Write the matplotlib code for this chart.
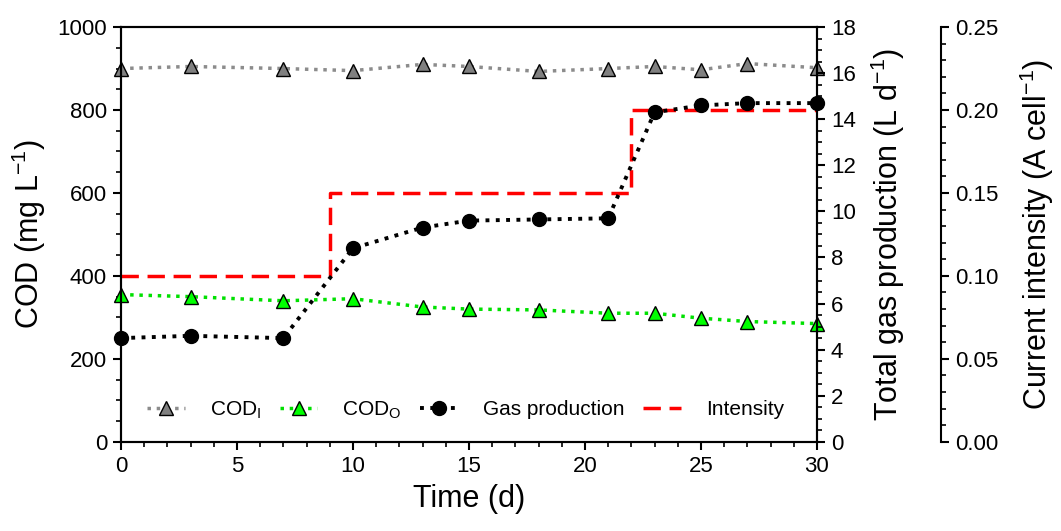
import matplotlib
matplotlib.use('Agg')
import matplotlib.pyplot as plt
from matplotlib.ticker import MultipleLocator

plt.rcParams['font.family'] = ['Liberation Sans', 'DejaVu Sans']
plt.rcParams['mathtext.default'] = 'regular'

days = [0, 3, 7, 10, 13, 15, 18, 21, 23, 25, 27, 30]
cod_in = [900, 905, 900, 895, 910, 905, 893, 900, 905, 897, 912, 902]
cod_out = [355, 350, 340, 345, 325, 320, 318, 310, 310, 298, 290, 285]
gas = [4.5, 4.6, 4.5, 8.4, 9.3, 9.6, 9.65, 9.7, 14.3, 14.6, 14.7, 14.7]

step_days = [0, 9, 9, 22, 22, 30]
intensity = [0.10, 0.10, 0.15, 0.15, 0.20, 0.20]

fig = plt.figure(figsize=(10.61, 5.31), dpi=100)
ax = fig.add_axes([0.114, 0.168, 0.656, 0.781])
ax3 = ax.twinx()
ax2 = ax.twinx()

l1, = ax.plot(days, cod_in, ls=':', lw=2.5, color='#8c8c8c', marker='^', ms=10,
              mfc='#808080', mec='black', mew=1, clip_on=False, label='COD$_{I}$')
l2, = ax.plot(days, cod_out, ls=':', lw=2.5, color='#00e000', marker='^', ms=10,
              mfc='#00ff00', mec='black', mew=1, clip_on=False, label='COD$_{O}$')
l3, = ax2.plot(days, gas, ls=':', lw=2.8, color='black', marker='o', ms=10,
               mfc='black', mec='black', clip_on=False, label='Gas production')
l4, = ax3.plot(step_days, intensity, ls=(0, (5, 2.5)), lw=2.5, color='#ff0000',
               label='Intensity')

ax.set_xlim(0, 30)
ax.set_ylim(0, 1000)
ax2.set_ylim(0, 18)
ax3.set_ylim(0, 0.25)

ax.xaxis.set_major_locator(MultipleLocator(5))
ax.xaxis.set_minor_locator(MultipleLocator(1))
ax.yaxis.set_major_locator(MultipleLocator(200))
ax.yaxis.set_minor_locator(MultipleLocator(50))
ax2.yaxis.set_major_locator(MultipleLocator(2))
ax2.yaxis.set_minor_locator(MultipleLocator(0.5))
ax3.yaxis.set_major_locator(MultipleLocator(0.05))
ax3.yaxis.set_minor_locator(MultipleLocator(0.01))
ax3.yaxis.set_major_formatter(plt.FormatStrFormatter('%.2f'))

ax3.spines['right'].set_position(('axes', 1.178))
for s in ['top', 'bottom', 'left']:
    ax3.spines[s].set_visible(False)

for a in [ax, ax2, ax3]:
    a.tick_params(which='major', direction='out', length=6, width=1.5, labelsize=16, pad=4)
    a.tick_params(which='minor', direction='out', length=3.5, width=1.2)
    for s in a.spines.values():
        s.set_linewidth(1.5)

ax.set_xlabel('Time (d)', fontsize=22, labelpad=5)
ax.set_ylabel('COD (mg L$^{-1}$)', fontsize=22, labelpad=7)
ax2.set_ylabel('Total gas production (L d$^{-1}$)', fontsize=22, labelpad=9)
ax3.set_ylabel('Current intensity (A cell$^{-1}$)', fontsize=22, labelpad=14)

ax2.legend(handles=[l1, l2, l3, l4], loc='center left', bbox_to_anchor=(0.023, 0.077),
           ncol=4, frameon=False, fontsize=15, borderpad=0, handlelength=1.8,
           handletextpad=1.2, columnspacing=0.9)

fig.savefig('out.png', dpi=100)
